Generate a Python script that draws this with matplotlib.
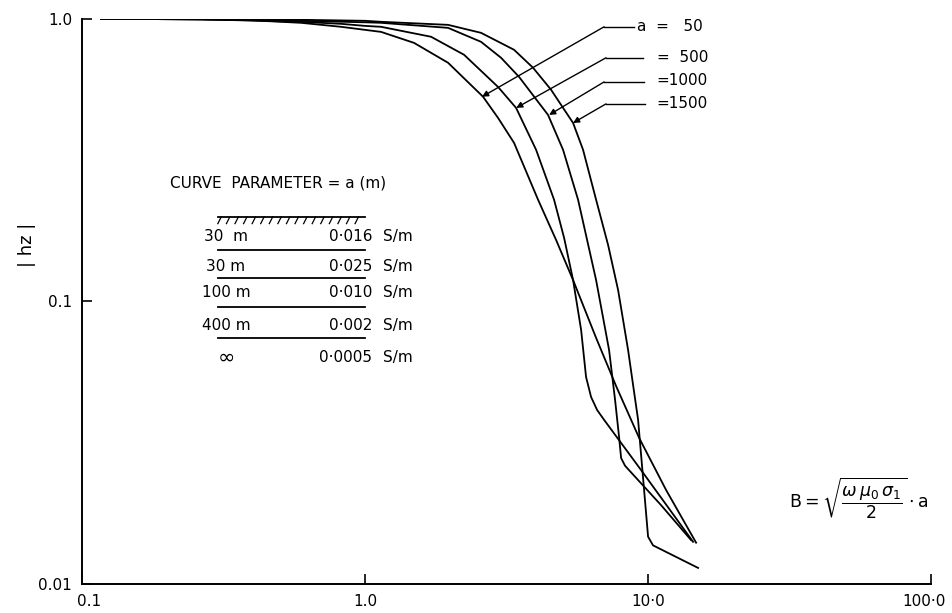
import numpy as np
import matplotlib
matplotlib.use("Agg")
import matplotlib.pyplot as plt
from matplotlib.transforms import ScaledTranslation

plt.rcParams['font.family'] = ['DejaVu Sans']
plt.rcParams['mathtext.fontset'] = 'dejavusans'

# curve parameter a (m) and |hz|
a_labels = ["a  =   50", "=  500", "=1000", "=1500"]

x_a50 = [0.1167, 0.2634, 0.3955, 0.594, 0.8226, 1.0, 1.139, 1.49, 1.965, 2.612, 2.951, 3.361,
         4.086, 4.731, 5.433, 6.551, 7.707, 9.295, 11.58, 14.78]
y_a50 = [1.0, 0.996, 0.988, 0.968, 0.937, 0.914, 0.899, 0.822, 0.699, 0.530, 0.446, 0.364,
         0.229, 0.165, 0.119, 0.0743, 0.0502, 0.0329, 0.0215, 0.0140]

x_a500 = [0.1167, 0.2634, 0.594, 0.8226, 1.0, 1.139, 1.711, 2.238, 2.951, 3.417, 4.021, 4.654,
          5.049, 5.433, 5.799, 6.038, 6.289, 6.604, 6.991, 9.447, 14.42]
y_a500 = [1.0, 0.996, 0.976, 0.960, 0.944, 0.937, 0.864, 0.746, 0.574, 0.484, 0.344, 0.229,
          0.168, 0.119, 0.0793, 0.0540, 0.0459, 0.0413, 0.0381, 0.0253, 0.0141]

x_a1000 = [0.1167, 0.2634, 0.594, 1.0, 1.139, 1.965, 2.570, 3.024, 3.501, 4.432, 5.007, 5.658,
           6.551, 7.281, 7.645, 7.898, 8.030, 8.292, 11.12, 14.19]
y_a1000 = [1.0, 0.996, 0.984, 0.972, 0.968, 0.929, 0.829, 0.728, 0.623, 0.457, 0.344, 0.229,
           0.119, 0.0673, 0.0448, 0.0331, 0.0279, 0.0262, 0.0190, 0.0143]

x_a1500 = [0.1167, 0.2634, 0.594, 1.0, 1.139, 1.965, 2.570, 3.361, 3.924, 4.542, 5.433, 5.892,
           6.551, 7.222, 7.834, 8.499, 8.851, 9.219, 10.0, 10.41, 15.02]
y_a1500 = [1.0, 0.996, 0.992, 0.984, 0.976, 0.952, 0.892, 0.777, 0.671, 0.561, 0.428, 0.344,
           0.229, 0.1585, 0.1098, 0.0673, 0.0506, 0.0381, 0.0147, 0.0137, 0.0114]

curves = [(x_a50, y_a50), (x_a500, y_a500), (x_a1000, y_a1000), (x_a1500, y_a1500)]

# layered earth model shown in the inset table
layer_thick = ["30  m", "30 m", "100 m", "400 m", "\u221e"]
layer_sigma = ["0\u00b7016", "0\u00b7025", "0\u00b7010", "0\u00b7002", "0\u00b70005"]

x_ticks = [0.1, 1.0, 10.0, 100.0]
x_ticklabels = ["0.1", "1.0", "10\u00b70", "100\u00b70"]
y_ticks = [0.01, 0.1, 1.0]
y_ticklabels = ["0.01", "0.1", "1.0"]

fig = plt.figure(figsize=(9.52, 6.13), dpi=100)
ax = fig.add_axes([0.0861, 0.0473, 0.892, 0.922])

for xs, ys in curves:
    ax.plot(xs, ys, color='black', lw=1.3, solid_joinstyle='round')

ax.set_xscale('log')
ax.set_yscale('log')
ax.set_xlim(0.1, 100)
ax.set_ylim(0.01, 1.0)
ax.set_xticks(x_ticks)
ax.set_xticklabels(x_ticklabels)
ax.set_yticks(y_ticks)
ax.set_yticklabels(y_ticklabels)
ax.xaxis.set_minor_locator(matplotlib.ticker.NullLocator())
ax.yaxis.set_minor_locator(matplotlib.ticker.NullLocator())
ax.tick_params(direction='in', length=7, width=1.2, labelsize=11, pad=7)
for s in ['top', 'right']:
    ax.spines[s].set_visible(False)
for s in ['left', 'bottom']:
    ax.spines[s].set_linewidth(1.4)

# nudge end labels like the original lettering
xl = ax.get_xticklabels()
xl[0].set_transform(xl[0].get_transform() + ScaledTranslation(5 / 72, 0, fig.dpi_scale_trans))
xl[-1].set_transform(xl[-1].get_transform() + ScaledTranslation(-5 / 72, 0, fig.dpi_scale_trans))

ax.text(-0.065, 0.60, "| hz |", transform=ax.transAxes, rotation=90,
        ha='center', va='center', fontsize=13)

# leaders from the labels to each curve
tips = [(2.59, 0.530), (3.42, 0.484), (4.47, 0.457), (5.43, 0.428)]
corners = [(6.99, 0.937), (7.10, 0.728), (6.99, 0.598), (7.10, 0.500)]
ends = [8.92, 9.60, 9.67, 9.75]
label_pos = [(0.6537, 0.9858), (0.677, 0.931), (0.677, 0.890), (0.677, 0.8496)]
for lab, tip, cor, xe, lp in zip(a_labels, tips, corners, ends, label_pos):
    ax.plot([cor[0], xe], [cor[1], cor[1]], color='black', lw=1.0)
    ax.annotate('', xy=tip, xytext=cor,
                arrowprops=dict(arrowstyle='-|>', color='black', lw=1.0,
                                shrinkA=0, shrinkB=0, mutation_scale=9))
    ax.text(lp[0], lp[1], lab, transform=ax.transAxes, ha='left',
            va='center', fontsize=11)

# inset with curve parameter and layer table
ax.text(0.1037, 0.7097, "CURVE  PARAMETER = a (m)", transform=ax.transAxes,
        ha='left', va='center', fontsize=11)
x0, x1 = 0.160, 0.333
yg = 0.6496
ax.plot([x0, x1], [yg, yg], color='black', lw=1.3, transform=ax.transAxes)
for xh in np.arange(x0 + 0.004, x1, 0.0101):
    ax.plot([xh, xh - 0.004], [yg, yg - 0.012], color='black', lw=0.9,
            transform=ax.transAxes)
row_y = [0.614, 0.561, 0.515, 0.458, 0.400]
sep_y = [0.591, 0.5416, 0.490, 0.435]
for yy in sep_y:
    ax.plot([x0, x1], [yy, yy], color='black', lw=1.3, transform=ax.transAxes)
for t, s, yy in zip(layer_thick, layer_sigma, row_y):
    ax.text(0.1696, yy, t, transform=ax.transAxes, ha='center', va='center',
            fontsize=15 if t == "\u221e" else 11)
    ax.text(0.3416, yy, s, transform=ax.transAxes, ha='right', va='center',
            fontsize=11)
    ax.text(0.3545, yy, "S/m", transform=ax.transAxes, ha='left', va='center',
            fontsize=11)

ax.text(0.833, 0.153,
        r"$\mathrm{B}=\sqrt{\dfrac{\omega\,\mu_0\,\sigma_1}{2}}\cdot\mathrm{a}$",
        transform=ax.transAxes, ha='left', va='center', fontsize=12.5)

fig.savefig("out.png", dpi=100)
